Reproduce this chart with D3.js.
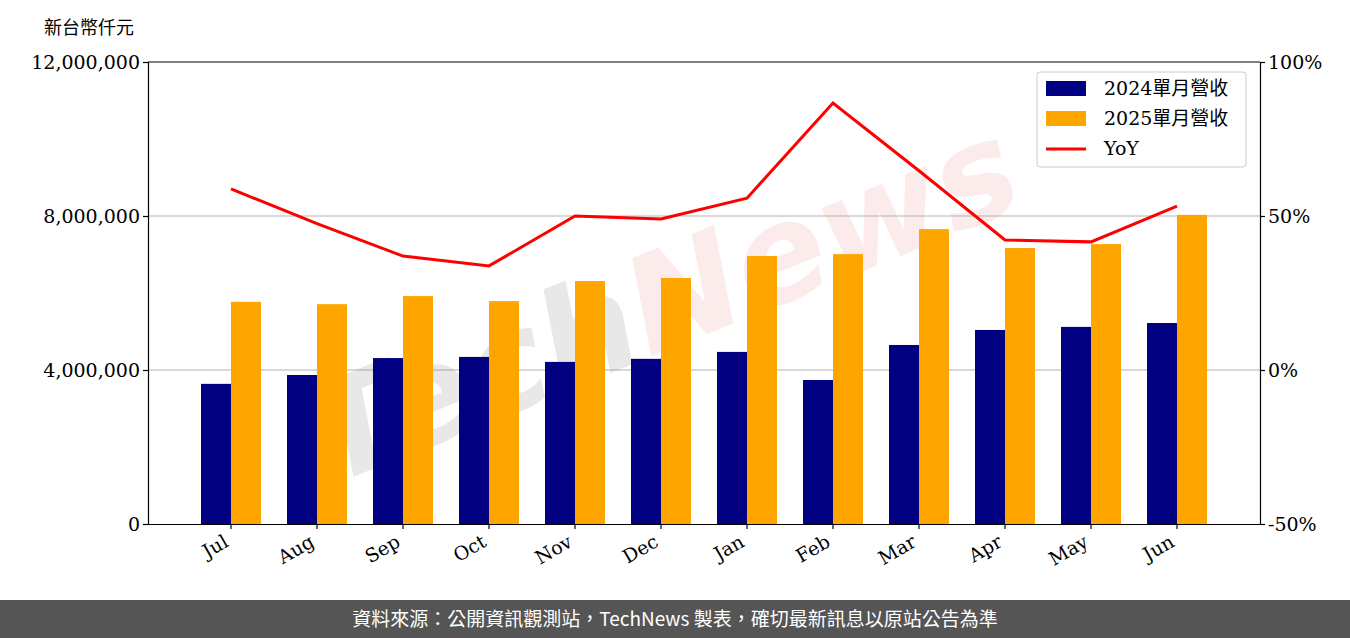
<!DOCTYPE html>
<html><head><meta charset="utf-8">
<script src="https://cdn.jsdelivr.net/npm/d3@7"></script>
<style>body{margin:0;background:#fff}</style>
</head><body><svg id="c" width="1350" height="638"></svg>
<script>
var months = ["Jul","Aug","Sep","Oct","Nov","Dec","Jan","Feb","Mar","Apr","May","Jun"];
var rev2024 = [3640000,3870000,4310000,4340000,4210000,4290000,4470000,3740000,4650000,5040000,5120000,5220000];
var rev2025 = [5770000,5710000,5920000,5790000,6310000,6390000,6960000,7010000,7660000,7170000,7270000,8030000];
var yoy = [58.8,47.5,37.0,33.8,50.0,49.0,55.8,86.7,64.7,42.2,41.6,53.2];
var leftTicks = [0,4000000,8000000,12000000];
var rightTicks = [-50,0,50,100];

var svg = d3.select("#c");
var L=148,R=1260,T=62,B=524;
var x = d3.scaleBand().domain(months).range([L,R]).paddingOuter(0.465);
var y = d3.scaleLinear().domain([0,12000000]).range([B,T]);
var y2 = d3.scaleLinear().domain([-50,100]).range([B,T]);
var bw = 30;

// grid
svg.selectAll(".grid").data(leftTicks.slice(1,3)).enter().append("line")
  .attr("x1",L).attr("x2",R).attr("y1",d=>y(d)).attr("y2",d=>y(d))
  .attr("stroke","#ccc").attr("stroke-width",1.5);

// watermark
var wm = svg.append("text").attr("transform","translate(680,345) rotate(-22)")
  .attr("text-anchor","middle").attr("font-size",135).attr("font-style","italic")
  .attr("font-weight","bold").style("font-family","DejaVu Sans").attr("opacity",0.16);
wm.append("tspan").text("Tech").attr("fill","#777");
wm.append("tspan").text("News").attr("fill","#e88");

var c = x.bandwidth()/2;
svg.selectAll(".b1").data(rev2024).enter().append("rect")
  .attr("x",(d,i)=>x(months[i])+c-bw).attr("width",bw)
  .attr("y",d=>y(d)).attr("height",d=>B-y(d)).attr("fill","#000080");
svg.selectAll(".b2").data(rev2025).enter().append("rect")
  .attr("x",(d,i)=>x(months[i])+c).attr("width",bw)
  .attr("y",d=>y(d)).attr("height",d=>B-y(d)).attr("fill","#ffa500");

svg.append("path").datum(yoy).attr("fill","none").attr("stroke","#ff0000").attr("stroke-width",3)
  .attr("d",d3.line().x((d,i)=>x(months[i])+c).y(d=>y2(d)));

// axes
var fmt = d3.format(",");
var ga = svg.append("g").attr("transform","translate("+L+",0)")
  .call(d3.axisLeft(y).tickValues(leftTicks).tickFormat(fmt).tickSizeOuter(0).tickSize(5));
var gr = svg.append("g").attr("transform","translate("+R+",0)")
  .call(d3.axisRight(y2).tickValues(rightTicks).tickFormat(d=>d+"%").tickSizeOuter(0).tickSize(5));
var gb = svg.append("g").attr("transform","translate(0,"+B+")")
  .call(d3.axisBottom(x).tickSize(5).tickSizeOuter(0));
svg.append("line").attr("x1",L).attr("x2",R).attr("y1",T).attr("y2",T).attr("stroke","#000");
[ga,gr,gb].forEach(g=>{g.attr("font-family",null).attr("font-size",null);
  g.selectAll("text").style("font-size","19px").style("font-family","DejaVu Serif").attr("fill","#000");
  g.selectAll("line,path").attr("stroke","#000").attr("stroke-width",1.2);});
gb.selectAll("text").attr("text-anchor","end").attr("y",0).attr("dy","0.7em").attr("dx",0)
  .attr("transform","translate(-8,10) rotate(-30)");

svg.append("text").text("新台幣仟元").attr("x",44).attr("y",34).style("font-size","18px")
  .style("font-family","Noto Sans CJK TC");

// legend
var lg = svg.append("g").attr("transform","translate(1037,72)");
lg.append("rect").attr("width",209).attr("height",95).attr("rx",3).attr("fill","#fff")
  .attr("fill-opacity",0.8).attr("stroke","#ccc");
var items = [["2024單月營收","#000080","bar"],["2025單月營收","#ffa500","bar"],["YoY","#ff0000","line"]];
items.forEach(function(it,i){
  var yy = 17+i*30;
  if(it[2]=="bar") lg.append("rect").attr("x",9).attr("y",yy-8).attr("width",40).attr("height",15).attr("fill",it[1]);
  else lg.append("line").attr("x1",9).attr("x2",49).attr("y1",yy).attr("y2",yy).attr("stroke",it[1]).attr("stroke-width",3);
  lg.append("text").text(it[0]).attr("x",67).attr("y",yy+6).style("font-size","19px")
    .style("font-family","DejaVu Serif, Noto Sans CJK TC");
});

// footer
svg.append("rect").attr("x",0).attr("y",600).attr("width",1350).attr("height",38).attr("fill","#555");
svg.append("text").text("資料來源：公開資訊觀測站，TechNews 製表，確切最新訊息以原站公告為準")
  .attr("x",675).attr("y",626).attr("text-anchor","middle").attr("fill","#fff").style("font-size","19px")
  .style("font-family","Noto Sans CJK TC");
</script></body></html>
